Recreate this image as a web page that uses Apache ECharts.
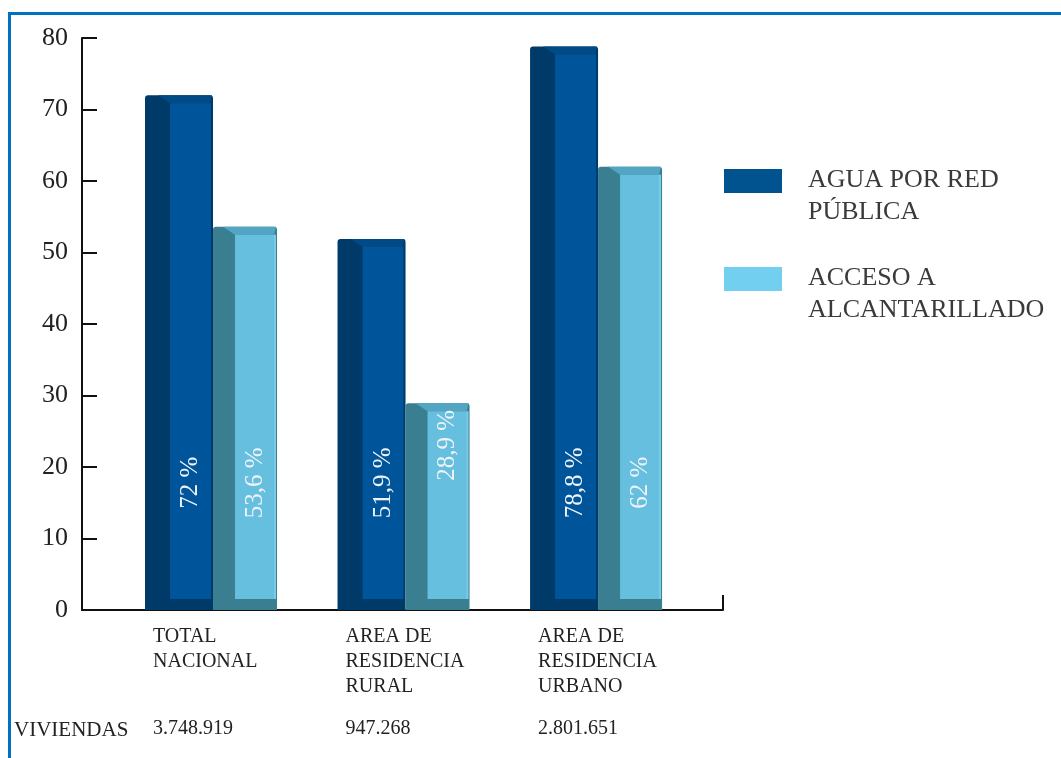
<!DOCTYPE html>
<html>
<head>
<meta charset="utf-8">
<script src="https://cdn.jsdelivr.net/npm/echarts@6/dist/echarts.min.js"></script>
<style>
html,body{margin:0;padding:0;background:#fff;}
#chart{width:1061px;height:758px;}
</style>
</head>
<body>
<div id="chart"></div>
<script>
// ---- data ----
const categories = ['TOTAL\nNACIONAL', 'AREA DE\nRESIDENCIA\nRURAL', 'AREA DE\nRESIDENCIA\nURBANO'];
const seriesNames = ['AGUA POR RED\nPÚBLICA', 'ACCESO A\nALCANTARILLADO'];
const aguaValues = [72, 51.9, 78.8];
const alcantValues = [53.6, 28.9, 62];
const valueLabels1 = ['72 %', '51,9 %', '78,8 %'];
const valueLabels2 = ['53,6 %', '28,9 %', '62 %'];
const rowHeader = 'VIVIENDAS';
const viviendas = ['3.748.919', '947.268', '2.801.651'];
const yMin = 0, yMax = 80, yInterval = 10;

const FONT = '"Liberation Serif", "DejaVu Serif", serif';

const styles = [
  {dx0: -68, dx1: 0, side: 25, sideColor: '#003A69', bevel: '#004B86', front: '#00549A', hl: null, legend: '#00538F'},
  {dx0: 0, dx1: 64, side: 22, sideColor: '#3A7E92', bevel: '#52A6C4', front: '#66BFDE', hl: '#7ACBE6', legend: '#73CFEF'}
];

function makeRender(si, labels, withCats) {
  const st = styles[si];
  return function (params, api) {
    const i = api.value(0), v = api.value(1);
    const p = api.coord([i, v]);
    const base = api.coord([i, 0]);
    const b = p[0], t = p[1], y0 = base[1];
    const xl = b + st.dx0, xr = b + st.dx1, s = st.side;
    const children = [
      {type: 'rect', shape: {x: xl, y: t, width: xr - xl, height: y0 - t, r: [3, 3, 0, 0]}, style: {fill: st.sideColor}},
      {type: 'polygon', shape: {points: [[xl + s - 12, t], [xr - 1, t], [xr - 3, t + 8], [xl + s, t + 8]]}, style: {fill: st.bevel}},
      {type: 'rect', shape: {x: xl + s, y: t + 8, width: xr - xl - s - 2, height: (y0 - 11) - (t + 8)}, style: {fill: st.front}}
    ];
    if (st.hl) {
      children.push({type: 'rect', shape: {x: xr - 3, y: t + 8, width: 2, height: (y0 - 11) - (t + 8)}, style: {fill: st.hl}});
    }
    const ly = v < 35 ? t + 42 : api.coord([i, 17.8])[1];
    const lx = xl + s + (xr - xl - s - 2) / 2;
    children.push({
      type: 'text', x: lx, y: ly, rotation: Math.PI / 2,
      style: {text: labels[params.dataIndex], fill: '#EEF3F8', font: '25px ' + FONT, align: 'center', verticalAlign: 'middle'}
    });
    if (withCats) {
      children.push({
        type: 'text', x: b - 60, y: 624,
        style: {text: categories[params.dataIndex], fill: '#222', font: '20px ' + FONT, lineHeight: 25, align: 'left', verticalAlign: 'top'}
      });
      children.push({
        type: 'text', x: b - 60, y: 729,
        style: {text: viviendas[params.dataIndex], fill: '#222', font: '20px ' + FONT, align: 'left', verticalAlign: 'middle'}
      });
    }
    return {type: 'group', children: children};
  };
}

// legend drawn as graphic (icon aligned with first text line)
const legendGraphic = [];
seriesNames.forEach(function (name, k) {
  const cy = [181, 279][k];
  legendGraphic.push({type: 'rect', x: 724, y: cy - 12, shape: {width: 58, height: 24}, style: {fill: styles[k].legend}});
  legendGraphic.push({type: 'text', x: 808, y: cy - 17, style: {text: name, fill: '#3a3a3a', font: '26px ' + FONT, lineHeight: 32, align: 'left', verticalAlign: 'top'}});
});

const chart = echarts.init(document.getElementById('chart'));
const xMin = -0.6805, xMax = 2.649;
chart.setOption({
  animation: false,
  backgroundColor: '#fff',
  grid: {left: 82, top: 38, right: 338, bottom: 148, containLabel: false},
  xAxis: {
    type: 'value', min: xMin, max: xMax,
    axisLine: {show: true, onZero: false, lineStyle: {color: '#111', width: 2}},
    axisTick: {show: true, inside: true, length: 15, customValues: [xMax], lineStyle: {color: '#111', width: 2}},
    axisLabel: {show: false},
    splitLine: {show: false}
  },
  yAxis: {
    type: 'value', min: yMin, max: yMax, interval: yInterval,
    axisLine: {show: true, onZero: false, lineStyle: {color: '#111', width: 2}},
    axisTick: {show: true, inside: true, length: 15, lineStyle: {color: '#111', width: 2}},
    axisLabel: {color: '#222', fontSize: 26, fontFamily: FONT, margin: 14},
    splitLine: {show: false}
  },
  graphic: [
    {type: 'rect', left: 8, top: 12, shape: {width: 1053, height: 3}, style: {fill: '#0070C0'}},
    {type: 'rect', left: 8, top: 12, shape: {width: 3, height: 746}, style: {fill: '#0070C0'}},
    {type: 'text', x: 14, y: 730, style: {text: rowHeader, fill: '#222', font: '21px ' + FONT, verticalAlign: 'middle'}}
  ].concat(legendGraphic),
  series: [
    {
      name: seriesNames[0], type: 'custom', coordinateSystem: 'cartesian2d',
      itemStyle: {color: styles[0].legend},
      encode: {x: 0, y: 1},
      data: aguaValues.map((v, i) => [i, v]),
      renderItem: makeRender(0, valueLabels1, true)
    },
    {
      name: seriesNames[1], type: 'custom', coordinateSystem: 'cartesian2d',
      itemStyle: {color: styles[1].legend},
      encode: {x: 0, y: 1},
      data: alcantValues.map((v, i) => [i, v]),
      renderItem: makeRender(1, valueLabels2, false)
    }
  ]
});
</script>
</body>
</html>
